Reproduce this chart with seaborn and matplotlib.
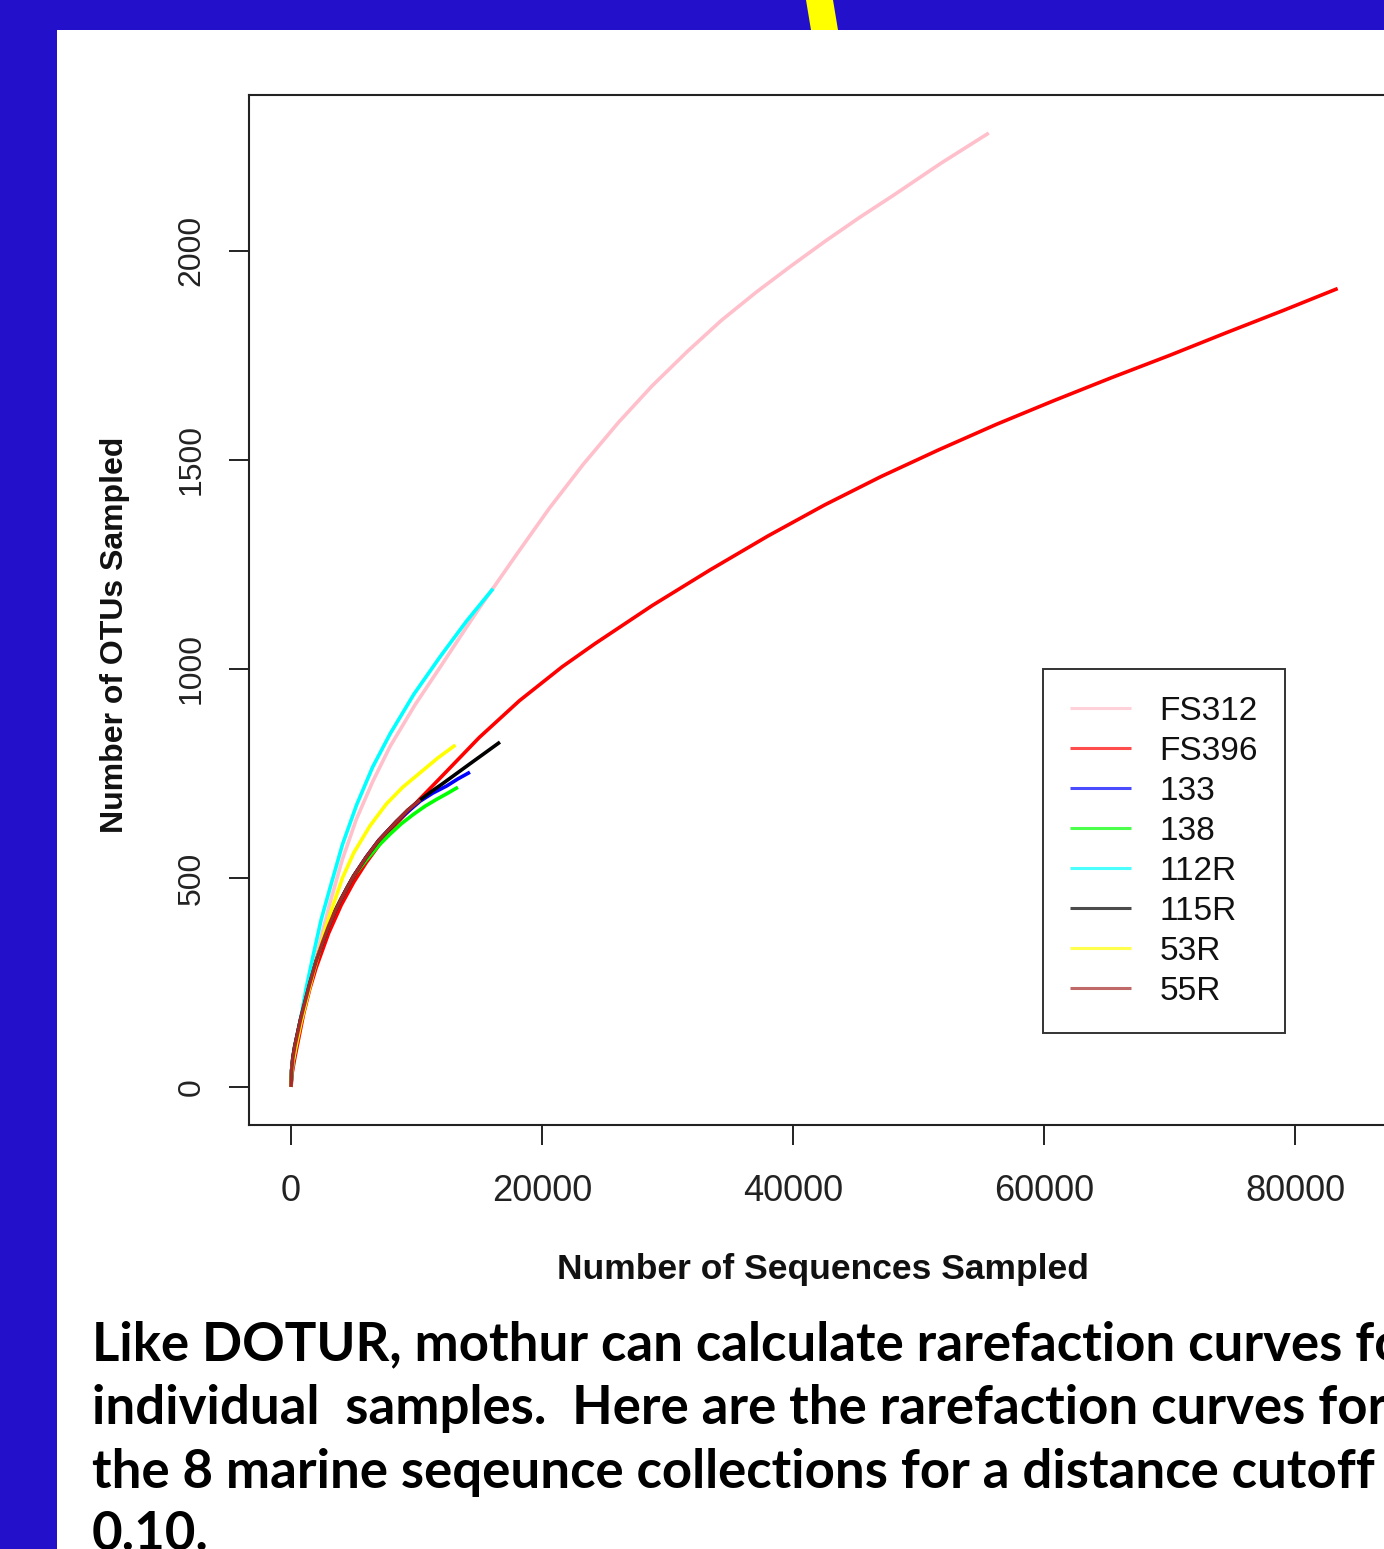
import numpy as np
import pandas as pd
import matplotlib
matplotlib.use("Agg")
import matplotlib.pyplot as plt
from matplotlib.patches import Rectangle, Polygon
import seaborn as sns

# ---------------- data ----------------
series_names = ["FS312", "FS396", "133", "138", "112R", "115R", "53R", "55R"]
series_colors = ["#FFC0CB", "#FF0000", "#0000FF", "#00FF00", "#00FFFF", "#000000", "#FFFF00", "#A52A2A"]

seq_FS312 = [0, 50, 200, 500, 900, 1400, 1900, 2500, 3100, 4100, 5200, 6500, 7900, 9900, 11900,
             13500, 15100, 16100, 18000, 20600, 23300, 26100, 28800, 31600, 34300, 37100, 39800,
             42600, 45300, 48000, 51800, 55600]
otu_FS312 = [0, 28, 55, 100, 160, 230, 295, 370, 440, 545, 640, 730, 815, 915, 1005,
             1078, 1150, 1193, 1275, 1385, 1490, 1590, 1678, 1760, 1834, 1902, 1963,
             2024, 2080, 2133, 2210, 2282]

seq_FS396 = [0, 100, 300, 600, 1000, 1500, 2000, 3000, 4000, 5000, 6000, 7000, 8400, 10300, 12400,
             15000, 18200, 21600, 24200, 28800, 33400, 38000, 42500, 47000, 51600, 56200, 60800,
             65400, 70000, 74500, 79100, 83400]
otu_FS396 = [0, 35, 70, 115, 175, 235, 285, 368, 435, 490, 537, 578, 630, 690, 755,
             836, 924, 1005, 1060, 1152, 1237, 1318, 1392, 1460, 1524, 1585, 1642,
             1697, 1750, 1804, 1858, 1910]

seq_133 = [0, 50, 150, 300, 500, 750, 1000, 1500, 2000, 2500, 3000, 3500, 4000, 4500, 5000,
           6000, 7000, 8400, 10300, 11300, 12400, 13300, 14260]
otu_133 = [0, 40, 70, 97, 125, 160, 190, 248, 300, 345, 385, 420, 450, 478, 505,
           550, 590, 635, 684, 703, 720, 737, 753]

seq_138 = [0, 50, 150, 300, 500, 750, 1000, 1500, 2000, 2500, 3000, 3500, 4000, 4500, 5000,
           6000, 7000, 7900, 8800, 9750, 10700, 11600, 12500, 13300]
otu_138 = [0, 40, 70, 97, 125, 160, 190, 248, 300, 345, 385, 420, 450, 478, 505,
           543, 578, 605, 630, 652, 672, 688, 703, 717]

seq_112R = [0, 50, 160, 400, 720, 1200, 1770, 2400, 3100, 4100, 5230, 6500, 7900, 9800, 11900,
            14000, 16100]
otu_112R = [0, 30, 60, 105, 155, 235, 315, 400, 475, 580, 675, 765, 845, 940, 1030,
            1115, 1192]

seq_115R = [0, 50, 150, 300, 500, 750, 1000, 1500, 2000, 2500, 3000, 3500, 4000, 4500, 5000,
            6000, 7000, 8400, 9300, 10300, 11200, 12100, 13200, 14300, 15500, 16650]
otu_115R = [0, 40, 70, 97, 125, 160, 190, 248, 300, 345, 385, 420, 450, 478, 505,
            550, 590, 635, 662, 687, 707, 726, 750, 774, 800, 825]

seq_53R = [0, 50, 150, 450, 800, 1250, 1750, 2300, 2800, 3360, 4100, 5000, 6300, 7600, 8900,
           10300, 11700, 13100]
otu_53R = [0, 35, 60, 105, 155, 210, 270, 330, 385, 435, 500, 560, 625, 677, 717,
           752, 787, 818]

seq_55R = [0, 50, 150, 300, 500, 750, 1000, 1500, 2000, 2500, 3000, 3500, 4000, 4500, 5000,
           6000, 7000, 8400, 9300, 10300]
otu_55R = [0, 40, 70, 97, 125, 160, 190, 248, 300, 345, 385, 420, 450, 478, 505,
           550, 590, 635, 662, 687]

x_ticks = [0, 20000, 40000, 60000, 80000]
y_ticks = [0, 500, 1000, 1500, 2000]
x_label = "Number of Sequences Sampled"
y_label = "Number of OTUs Sampled"
caption_lines = [
    "Like DOTUR, mothur can calculate rarefaction curves for",
    "individual  samples.  Here are the rarefaction curves for",
    "the 8 marine seqeunce collections for a distance cutoff of",
    "0.10.",
]

seqs = [seq_FS312, seq_FS396, seq_133, seq_138, seq_112R, seq_115R, seq_53R, seq_55R]
otus = [otu_FS312, otu_FS396, otu_133, otu_138, otu_112R, otu_115R, otu_53R, otu_55R]
frames = []
for name, xs, ys in zip(series_names, seqs, otus):
    frames.append(pd.DataFrame({"seqs": xs, "otus": ys, "sample": name}))
df = pd.concat(frames, ignore_index=True)

# ---------------- figure ----------------
W, H = 1384, 1549
plt.rcParams["font.family"] = ["Liberation Sans", "DejaVu Sans"]
fig = plt.figure(figsize=(W / 100, H / 100), dpi=100)
fig.patch.set_facecolor("#2210CA")

def fx(px):
    return px / W

def fy(py):
    return 1 - py / H

fig.add_artist(Rectangle((fx(57), 0), 1 - fx(57), fy(30), transform=fig.transFigure,
                         facecolor="white", edgecolor="none", zorder=-5))
fig.add_artist(Polygon([(fx(806), fy(0)), (fx(833), fy(0)), (fx(838), fy(30)), (fx(811), fy(30))],
                       closed=True, transform=fig.transFigure, facecolor="#FFFF00",
                       edgecolor="none", zorder=-4))

ax = fig.add_axes([fx(249), fy(1125), fx(1390) - fx(249), (1125 - 95) / H])
ax.set_facecolor("white")

sns.lineplot(data=df, x="seqs", y="otus", hue="sample", hue_order=series_names,
             palette=dict(zip(series_names, series_colors)), sort=False,
             estimator=None, units="sample", linewidth=2.6, ax=ax, legend=True)
for ln in ax.get_lines():
    ln.set_solid_joinstyle("round")
    ln.set_solid_capstyle("butt")

ax.set_xlim(-3347, 87570)
ax.set_ylim(-91, 2373)
ax.set_xticks(x_ticks)
ax.set_xticklabels([str(v) for v in x_ticks], fontsize=26)
ax.set_yticks(y_ticks)
ax.set_yticklabels([str(v) for v in y_ticks], fontsize=23, rotation=90, va="center")
ax.tick_params(axis="x", length=14.4, width=1.4, colors="#222222", pad=21)
ax.tick_params(axis="y", length=14.4, width=1.4, colors="#222222", pad=16)
ax.set_xlabel("")
ax.set_ylabel("")
for side in ["left", "bottom", "top"]:
    ax.spines[side].set_linewidth(1.5)
    ax.spines[side].set_color("#222222")
ax.spines["right"].set_visible(False)

fig.text(fx(823), fy(1270), x_label, ha="center", va="center", fontsize=25.5,
         fontweight="bold", color="#111111")
fig.text(fx(115), fy(635), y_label, ha="center", va="center", fontsize=23,
         fontweight="bold", rotation=90, color="#111111")

handles, labels = ax.get_legend_handles_labels()
leg = ax.legend(handles, labels, loc="upper left", bbox_to_anchor=(fx(1043), fy(669)),
                bbox_transform=fig.transFigure, borderaxespad=0, fontsize=24,
                handlelength=1.85, handletextpad=0.85, borderpad=0.8, labelspacing=0.27,
                frameon=True, fancybox=False, framealpha=1, edgecolor="#333333")
leg.get_frame().set_linewidth(1.4)
for line in leg.get_lines():
    line.set_linewidth(2.2)
    line.set_alpha(0.7)
for t in leg.get_texts():
    t.set_color("#111111")

baselines = [1360, 1424, 1488, 1550]
for txt, b in zip(caption_lines, baselines):
    fig.text(fx(92), fy(b), txt, ha="left", va="baseline", fontsize=38,
             fontweight="bold", family=["Lato", "DejaVu Sans"], color="black")

fig.savefig("out.png", dpi=100, facecolor=fig.get_facecolor())
